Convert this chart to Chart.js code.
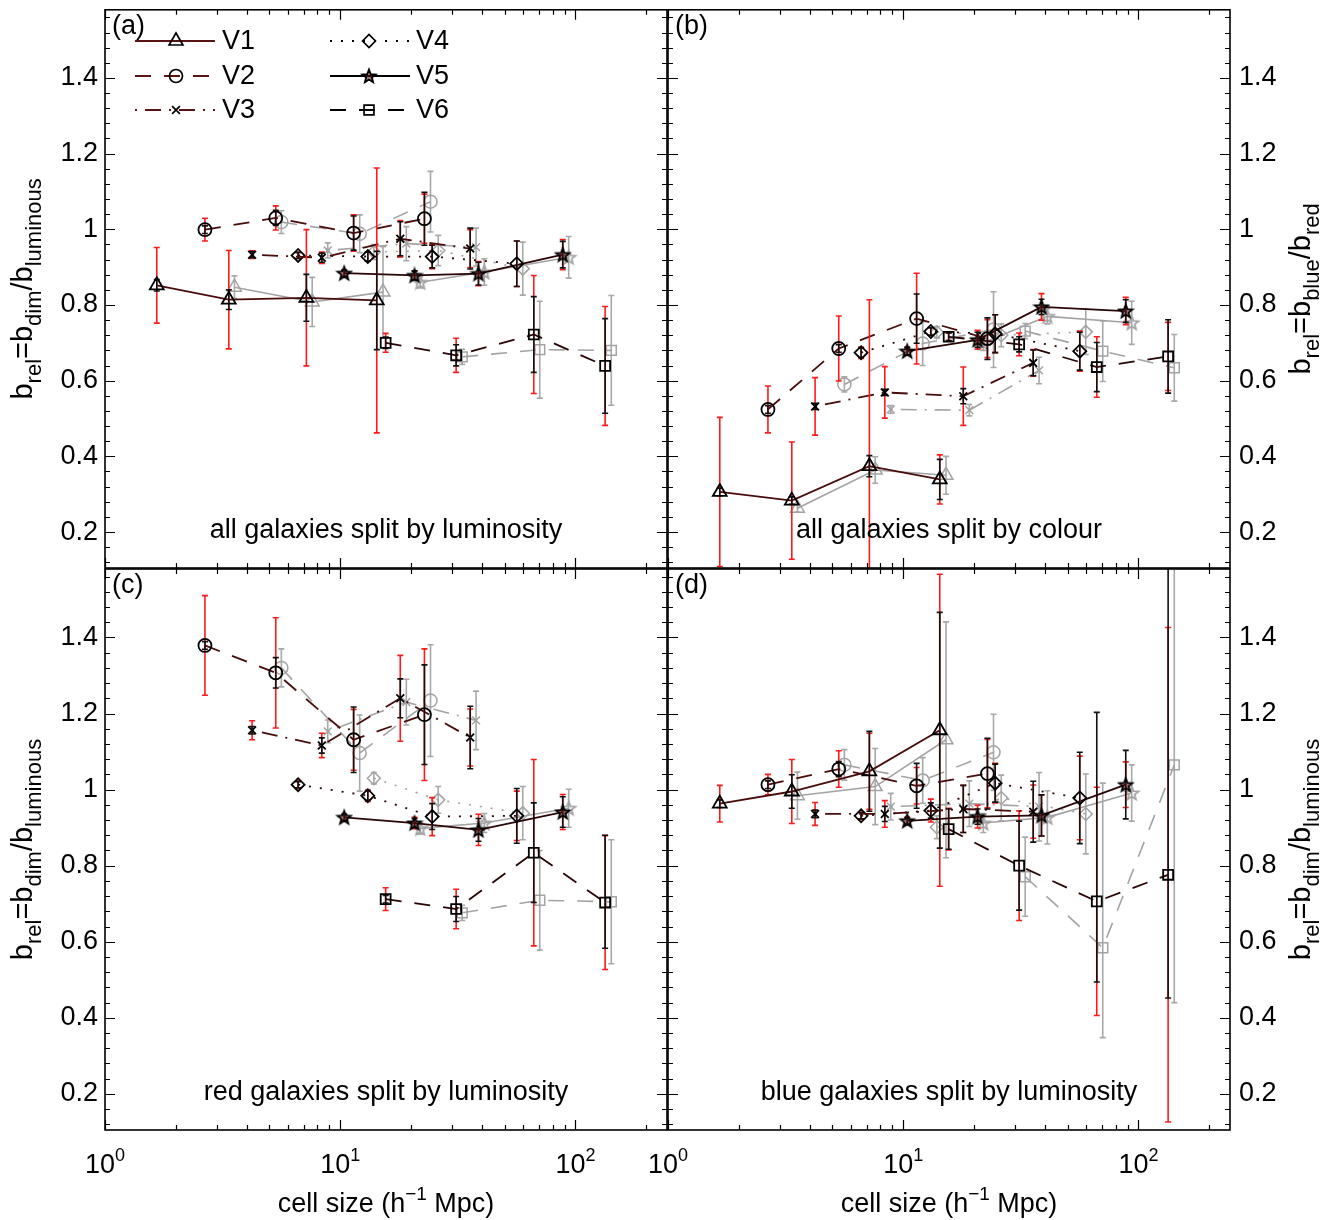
<!DOCTYPE html>
<html>
<head>
<meta charset="utf-8">
<script src="https://cdn.jsdelivr.net/npm/chart.js@4.4.1/dist/chart.umd.min.js"></script>
<style>
html, body { margin: 0; padding: 0; background: #fff; }
#wrap { position: relative; width: 1331px; height: 1220px; }
#wrap canvas { position: absolute; left: 0; top: 0; }
</style>
</head>
<body>
<div id="wrap">
  <canvas id="pa" width="1331" height="1220"></canvas>
  <canvas id="pb" width="1331" height="1220"></canvas>
  <canvas id="pc" width="1331" height="1220"></canvas>
  <canvas id="pd" width="1331" height="1220"></canvas>
</div>
<script>
// variants and the cell sizes (h^-1 Mpc) they were measured at
const names = ['V1', 'V2', 'V3', 'V4', 'V5', 'V6'];
const cells = [
    [1.66, 3.36, 7.18, 14.3],
    [2.66, 5.32, 11.4, 22.8],
    [4.22, 8.35, 18.0, 35.7],
    [6.62, 13.1, 24.6, 56.3],
    [10.4, 20.7, 38.7, 88.3],
    [15.6, 31.1, 66.5, 133.7]
];
// grey comparison points (no smallest cell)
const cellsGrey = [
    [3.55, 7.6, 15.2],
    [5.62, 12.1, 24.2],
    [8.85, 19.1, 37.8],
    [13.9, 26.1, 59.7],
    [21.9, 41.0, 93.6],
    [33.0, 70.5, 142]
];
const yTicks = [0.2, 0.4, 0.6, 0.8, 1, 1.2, 1.4];
const xTicks = [1, 10, 100];

// (a) all galaxies split by luminosity
const aVal = [
    [0.852, 0.814, 0.819, 0.812],
    [0.999, 1.030, 0.990, 1.028],
    [0.933, 0.925, 0.975, 0.949],
    [0.931, 0.928, 0.928, 0.909],
    [0.884, 0.878, 0.883, 0.933],
    [0.700, 0.667, 0.722, 0.639]
];
const aRed = [
    [0.10, 0.13, 0.18, 0.35],
    [0.03, 0.032, 0.048, 0.065],
    [0.01, 0.015, 0.048, 0.05],
    [0.008, 0.012, 0.032, 0.06],
    [0.008, 0.012, 0.032, 0.04],
    [0.025, 0.045, 0.156, 0.157]
];
const aBlack = [
    [0.015, 0.026, 0.062, 0.13],
    [0.01, 0.02, 0.045, 0.07],
    [0.008, 0.012, 0.045, 0.054],
    [0.008, 0.012, 0.03, 0.06],
    [0.008, 0.012, 0.03, 0.035],
    [0.015, 0.028, 0.10, 0.125]
];
const aGrey = [
    [0.847, 0.808, 0.834],
    [1.019, 0.988, 1.073],
    [0.944, 0.962, 0.953],
    [0.940, 0.944, 0.896],
    [0.860, 0.887, 0.926],
    [0.663, 0.682, 0.680]
];
const aGreyErr = [
    [0.03, 0.065, 0.12],
    [0.03, 0.05, 0.08],
    [0.02, 0.045, 0.05],
    [0.02, 0.04, 0.07],
    [0.015, 0.035, 0.055],
    [0.02, 0.128, 0.145]
];

// (b) all galaxies split by colour
const bVal = [
    [0.306, 0.283, 0.374, 0.339],
    [0.524, 0.685, 0.764, 0.711],
    [0.532, 0.569, 0.559, 0.647],
    [0.674, 0.730, 0.724, 0.678],
    [0.678, 0.708, 0.795, 0.784],
    [0.716, 0.696, 0.636, 0.664]
];
const bRed = [
    [0.197, 0.155, 0.44, 0.065],
    [0.062, 0.086, 0.12, 0.05],
    [0.076, 0.068, 0.077, 0.035],
    [0.015, 0.01, 0.05, 0.053],
    [0.01, 0.025, 0.035, 0.036],
    [0.01, 0.03, 0.08, 0.09]
];
const bBlack = [
    [0.01, 0.01, 0.028, 0.053],
    [0.01, 0.01, 0.065, 0.055],
    [0.008, 0.008, 0.02, 0.034],
    [0.012, 0.01, 0.05, 0.05],
    [0.01, 0.02, 0.02, 0.03],
    [0.01, 0.02, 0.065, 0.097]
];
const bGrey = [
    [0.263, 0.364, 0.350],
    [0.590, 0.698, 0.735],
    [0.524, 0.522, 0.627],
    [0.728, 0.720, 0.729],
    [0.700, 0.770, 0.753],
    [0.731, 0.678, 0.634]
];
const bGreyErr = [
    [0.01, 0.035, 0.05],
    [0.02, 0.058, 0.1],
    [0.01, 0.015, 0.035],
    [0.015, 0.03, 0.06],
    [0.02, 0.02, 0.057],
    [0.02, 0.08, 0.088]
];

// (c) red galaxies split by luminosity (no V1)
const cVal = [
    null,
    [1.379, 1.307, 1.131, 1.197],
    [1.156, 1.116, 1.240, 1.137],
    [1.013, 0.984, 0.929, 0.931],
    [0.927, 0.912, 0.894, 0.941],
    [0.712, 0.686, 0.834, 0.703]
];
const cRed = [
    null,
    [0.131, 0.145, 0.08, 0.173],
    [0.025, 0.032, 0.113, 0.075],
    [0.01, 0.015, 0.05, 0.065],
    [0.008, 0.015, 0.041, 0.046],
    [0.03, 0.052, 0.245, 0.176]
];
const cBlack = [
    null,
    [0.01, 0.04, 0.086, 0.131],
    [0.01, 0.02, 0.051, 0.082],
    [0.008, 0.012, 0.034, 0.072],
    [0.008, 0.012, 0.03, 0.04],
    [0.01, 0.033, 0.131, [0.12, 0.177]]
];
const cGrey = [
    null,
    [1.320, 1.096, 1.234],
    [1.153, 1.230, 1.182],
    [1.030, 0.973, 0.938],
    [0.898, 0.912, 0.951],
    [0.676, 0.709, 0.705]
];
const cGreyErr = [
    null,
    [0.05, 0.1, 0.147],
    [0.03, 0.06, 0.077],
    [0.015, 0.035, 0.07],
    [0.015, 0.025, 0.05],
    [0.02, 0.131, 0.163]
];

// (d) blue galaxies split by luminosity
const dVal = [
    [0.963, 0.995, 1.048, 1.156],
    [1.013, 1.054, 1.010, 1.042],
    [0.936, 0.936, 0.949, 0.942],
    [0.931, 0.945, 1.017, 0.978],
    [0.918, 0.929, 0.932, 1.013],
    [0.896, 0.800, 0.706, 0.776]
];
const dRed = [
    [0.048, 0.084, 0.1, 0.41],
    [0.027, 0.048, 0.048, 0.09],
    [0.03, 0.035, 0.062, 0.07],
    [0.01, 0.03, 0.052, 0.11],
    [0.01, 0.03, 0.054, 0.06],
    [0.055, 0.144, 0.3, 0.65]
];
const dBlack = [
    [0.01, 0.044, 0.105, 0.31],
    [0.01, 0.02, 0.059, 0.093],
    [0.01, 0.02, 0.062, 0.08],
    [0.008, 0.02, 0.05, 0.12],
    [0.008, 0.02, 0.054, 0.09],
    [0.053, 0.117, [0.212, 0.497], [0.324, 0.9]]
];
const dGrey = [
    [0.984, 1.008, 1.131],
    [1.065, 1.024, 1.098],
    [0.955, 0.963, 0.955],
    [0.901, 0.978, 0.936],
    [0.912, 0.927, 0.991],
    [0.771, 0.584, 1.065]
];
const dGreyErr = [
    [0.062, 0.1, 0.31],
    [0.04, 0.06, 0.1],
    [0.035, 0.06, 0.09],
    [0.03, 0.06, 0.105],
    [0.025, 0.07, 0.074],
    [0.104, [0.236, 0.433], [0.625, 0.9]]
];

const FONT = '"Liberation Sans", Arial, Helvetica, sans-serif';
const DARK = ['#4a0b0b', '#4a0b0b', '#4a0b0b', '#2a0505', '#2a0505', '#2a0505'];
const LEG_LINE = ['#5a1212', '#5a1212', '#5a1212', '#000', '#000', '#000'];
const GREY = '#a3a3a3';
const dashes = [[], [16, 13], [2, 8, 16, 8], [2, 9], [], [16, 13]];

function makeStar(color, fill) {
    const c = document.createElement('canvas');
    c.width = 18; c.height = 18;
    const g = c.getContext('2d');
    g.strokeStyle = color;
    g.fillStyle = fill;
    g.lineWidth = 1.8;
    g.beginPath();
    for (let i = 0; i < 10; i++) {
        const r = i % 2 === 0 ? 7 : 3;
        const ang = -Math.PI / 2 + i * Math.PI / 5;
        const px = 9 + r * Math.cos(ang), py = 9.6 + r * Math.sin(ang);
        if (i === 0) g.moveTo(px, py); else g.lineTo(px, py);
    }
    g.closePath();
    g.fill();
    g.stroke();
    return c;
}
const starDark = makeStar('#000', 'rgba(90,20,20,0.55)');
const starGrey = makeStar(GREY, 'rgba(0,0,0,0)');
const markers = ['triangle', 'circle', 'crossRot', 'rectRot', 'star', 'rect'];
const markerSize = [8, 6.5, 5.5, 6.5, 7, 7];

function pointStyleFor(s, grey) {
    if (markers[s] === 'star') return grey ? starGrey : starDark;
    return markers[s];
}

// error bars drawn just before the dataset they belong to
const errorBars = {
    id: 'errorBars',
    beforeDatasetDraw(chart, args) {
        const ds = chart.data.datasets[args.index];
        if (!ds.errs) return;
        const { ctx, chartArea: a, scales: { x, y } } = chart;
        ctx.save();
        ctx.beginPath();
        ctx.rect(a.left, a.top, a.right - a.left, a.bottom - a.top);
        ctx.clip();
        ctx.lineWidth = 1.6;
        ds.errs.forEach(set => {
            ctx.strokeStyle = set.color;
            ds.data.forEach((p, i) => {
                const e = set.e[i];
                if (e == null) return;
                const lo = Array.isArray(e) ? e[0] : e;
                const hi = Array.isArray(e) ? e[1] : e;
                const px = x.getPixelForValue(p.x);
                const y1 = y.getPixelForValue(p.y - lo);
                const y2 = y.getPixelForValue(p.y + hi);
                ctx.beginPath();
                ctx.moveTo(px, y1); ctx.lineTo(px, y2);
                ctx.moveTo(px - 3, y1); ctx.lineTo(px + 3, y1);
                ctx.moveTo(px - 3, y2); ctx.lineTo(px + 3, y2);
                ctx.stroke();
            });
        });
        ctx.restore();
    }
};

// text with sub/superscripts: parts = [[text, 0 normal | 1 sub | 2 sup], ...]
function richWidth(ctx, parts, big, small) {
    let w = 0;
    parts.forEach(([t, k]) => {
        ctx.font = (k ? small : big) + 'px ' + FONT;
        w += ctx.measureText(t).width;
    });
    return w;
}
function drawRich(ctx, parts, x0, y0, big, small) {
    let x = x0;
    ctx.textAlign = 'left';
    ctx.textBaseline = 'alphabetic';
    parts.forEach(([t, k]) => {
        ctx.font = (k ? small : big) + 'px ' + FONT;
        const dy = k === 1 ? 9 : (k === 2 ? -12 : 0);
        ctx.fillText(t, x, y0 + dy);
        x += ctx.measureText(t).width;
    });
}

const frame = {
    id: 'frame',
    afterDraw(chart, args, o) {
        const { ctx, chartArea: a, scales: { x, y } } = chart;
        ctx.save();
        ctx.strokeStyle = '#000';
        ctx.lineWidth = 1.2;
        ctx.beginPath();
        for (let d = 1; d <= 100; d *= 10) {
            for (let m = 1; m <= 9; m++) {
                const v = d * m;
                if (v > x.max) break;
                const px = Math.round(x.getPixelForValue(v)) + 0.5;
                const len = m === 1 ? 10 : 5;
                ctx.moveTo(px, a.bottom); ctx.lineTo(px, a.bottom - len);
                ctx.moveTo(px, a.top); ctx.lineTo(px, a.top + len);
            }
        }
        for (let k = 3; k <= 39; k++) {
            const py = Math.round(y.getPixelForValue(k * 0.04)) + 0.5;
            const len = k % 5 === 0 ? 10 : 5;
            ctx.moveTo(a.left, py); ctx.lineTo(a.left + len, py);
            ctx.moveTo(a.right, py); ctx.lineTo(a.right - len, py);
        }
        ctx.stroke();
        ctx.lineWidth = 1.6;
        ctx.strokeRect(a.left, a.top, a.right - a.left, a.bottom - a.top);

        ctx.fillStyle = '#000';
        // y tick labels
        ctx.font = '27px ' + FONT;
        ctx.textBaseline = 'middle';
        yTicks.forEach(v => {
            const py = y.getPixelForValue(v);
            if (o.ySide === 'left') {
                ctx.textAlign = 'right';
                ctx.fillText(String(v), a.left - 7, py);
            } else {
                ctx.textAlign = 'left';
                ctx.fillText(String(v), a.right + 9, py);
            }
        });
        // x tick labels and title on the bottom row
        if (o.xLabels) {
            xTicks.forEach((v, i) => {
                const parts = [['10', 0], [String(i), 2]];
                const w = richWidth(ctx, parts, 27, 18);
                drawRich(ctx, parts, x.getPixelForValue(v) - w / 2, 1173, 27, 18);
            });
            const tp = [['cell size (h', 0], ['\u22121', 2], [' Mpc)', 0]];
            const tw = richWidth(ctx, tp, 27, 19);
            drawRich(ctx, tp, (a.left + a.right) / 2 - tw / 2, 1212, 27, 19);
        }
        // y title, rotated
        const yp = o.yTitle;
        ctx.save();
        ctx.translate(o.ySide === 'left' ? 32 : 1310, (a.top + a.bottom) / 2);
        ctx.rotate(-Math.PI / 2);
        const yw = richWidth(ctx, yp, 29, 22);
        drawRich(ctx, yp, -yw / 2, 0, 29, 22);
        ctx.restore();
        // panel tag and caption
        ctx.font = '27px ' + FONT;
        ctx.textAlign = 'left';
        ctx.textBaseline = 'middle';
        ctx.fillText(o.tag, a.left + 7, a.top + 17);
        ctx.textAlign = 'center';
        ctx.fillText(o.caption, (a.left + a.right) / 2, a.bottom - 37);

        if (o.legend) drawLegend(ctx);
        ctx.restore();
    }
};

function drawLegend(ctx) {
    const rows = [41, 76, 110];
    const cols = [[135, 215, 176, 222], [330, 410, 369, 416]];
    names.forEach((n, s) => {
        const [x1, x2, xm, xt] = cols[Math.floor(s / 3)];
        const yy = rows[s % 3];
        ctx.save();
        ctx.strokeStyle = LEG_LINE[s];
        ctx.lineWidth = 1.8;
        ctx.setLineDash(dashes[s]);
        ctx.beginPath();
        ctx.moveTo(x1, yy); ctx.lineTo(x2, yy);
        ctx.stroke();
        ctx.setLineDash([]);
        ctx.strokeStyle = '#000';
        ctx.fillStyle = 'rgba(0,0,0,0)';
        ctx.lineWidth = 1.7;
        if (Chart.helpers && Chart.helpers.drawPoint) {
            Chart.helpers.drawPoint(ctx, {
                pointStyle: pointStyleFor(s, false),
                radius: markerSize[s], rotation: 0, borderWidth: 1.7
            }, xm, yy);
        }
        ctx.restore();
        ctx.fillStyle = '#000';
        ctx.font = '27px ' + FONT;
        ctx.textAlign = 'left';
        ctx.textBaseline = 'middle';
        ctx.fillText(n, xt, yy + 1);
    });
}

function buildDatasets(vals, red, black, grey, greyErr) {
    const sets = [];
    names.forEach((n, s) => {
        if (!vals[s]) return;
        sets.push({
            label: n + ' grey',
            data: cellsGrey[s].map((c, i) => ({ x: c, y: grey[s][i] })),
            showLine: true,
            borderColor: GREY,
            borderWidth: 1.6,
            borderDash: dashes[s],
            pointStyle: pointStyleFor(s, true),
            pointRadius: markerSize[s],
            pointBorderWidth: 1.5,
            pointBorderColor: GREY,
            pointBackgroundColor: 'rgba(0,0,0,0)',
            order: 2,
            errs: [{ e: greyErr[s], color: '#a8a8a8' }]
        });
    });
    names.forEach((n, s) => {
        if (!vals[s]) return;
        sets.push({
            label: n,
            data: cells[s].map((c, i) => ({ x: c, y: vals[s][i] })),
            showLine: true,
            borderColor: DARK[s],
            borderWidth: 1.8,
            borderDash: dashes[s],
            pointStyle: pointStyleFor(s, false),
            pointRadius: markerSize[s],
            pointBorderWidth: 1.8,
            pointBorderColor: '#000',
            pointBackgroundColor: 'rgba(0,0,0,0)',
            order: 1,
            errs: [{ e: red[s], color: '#ff1a1a' }, { e: black[s], color: '#111' }]
        });
    });
    return sets;
}

function makePanel(id, area, sets, opts) {
    return new Chart(document.getElementById(id), {
        type: 'scatter',
        data: { datasets: sets },
        options: {
            responsive: false,
            animation: false,
            events: [],
            layout: {
                padding: { left: area[0], top: area[1], right: 1331 - area[2], bottom: 1220 - area[3] }
            },
            scales: {
                x: { type: 'logarithmic', min: 1, max: 245, display: false },
                y: { type: 'linear', min: 0.105, max: 1.58, display: false }
            },
            plugins: {
                legend: { display: false },
                tooltip: { enabled: false },
                frame: opts
            }
        },
        plugins: [errorBars, frame]
    });
}

const dimTitle = [['b', 0], ['rel', 1], ['=b', 0], ['dim', 1], ['/b', 0], ['luminous', 1]];
const colTitle = [['b', 0], ['rel', 1], ['=b', 0], ['blue', 1], ['/b', 0], ['red', 1]];

makePanel('pa', [105, 8, 667, 568], buildDatasets(aVal, aRed, aBlack, aGrey, aGreyErr), {
    tag: '(a)', caption: 'all galaxies split by luminosity', ySide: 'left',
    yTitle: dimTitle, xLabels: false, legend: true
});
makePanel('pb', [668, 8, 1230, 568], buildDatasets(bVal, bRed, bBlack, bGrey, bGreyErr), {
    tag: '(b)', caption: 'all galaxies split by colour', ySide: 'right',
    yTitle: colTitle, xLabels: false, legend: false
});
makePanel('pc', [105, 569, 667, 1130], buildDatasets(cVal, cRed, cBlack, cGrey, cGreyErr), {
    tag: '(c)', caption: 'red galaxies split by luminosity', ySide: 'left',
    yTitle: dimTitle, xLabels: true, legend: false
});
makePanel('pd', [668, 569, 1230, 1130], buildDatasets(dVal, dRed, dBlack, dGrey, dGreyErr), {
    tag: '(d)', caption: 'blue galaxies split by luminosity', ySide: 'right',
    yTitle: dimTitle, xLabels: true, legend: false
});
</script>
</body>
</html>
